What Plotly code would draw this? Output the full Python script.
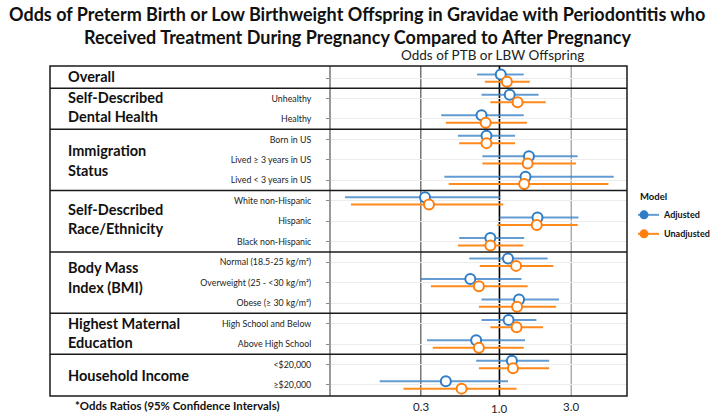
import math
import plotly.graph_objects as go

# ---------------- data ----------------
row_labels = ["", "Unhealthy", "Healthy", "Born in US", "Lived ≥ 3 years in US",
              "Lived < 3 years in US", "White non-Hispanic", "Hispanic", "Black non-Hispanic",
              "Normal (18.5-25 kg/m²)", "Overweight (25 - <30 kg/m²)", "Obese (≥ 30 kg/m²)",
              "High School and Below", "Above High School", "<$20,000", "≥$20,000"]

adj_or = [1.02, 1.17, 0.76, 0.82, 1.57, 1.49, 0.32, 1.79, 0.87, 1.14, 0.64, 1.35, 1.15, 0.70, 1.21, 0.44]
adj_lo = [0.71, 0.76, 0.41, 0.53, 0.77, 0.43, 0.094, 1.00, 0.54, 0.63, 0.30, 0.76, 0.76, 0.33, 0.70, 0.16]
adj_hi = [1.45, 1.82, 1.45, 1.27, 3.31, 5.75, 1.01, 3.35, 1.46, 2.09, 1.40, 2.49, 1.76, 1.48, 2.14, 1.14]

unadj_or = [1.12, 1.32, 0.81, 0.82, 1.54, 1.46, 0.34, 1.77, 0.87, 1.29, 0.73, 1.31, 1.30, 0.73, 1.23, 0.56]
unadj_lo = [0.80, 0.87, 0.44, 0.54, 0.77, 0.46, 0.103, 0.97, 0.53, 0.74, 0.35, 0.73, 0.87, 0.36, 0.73, 0.23]
unadj_hi = [1.59, 2.03, 1.52, 1.27, 3.23, 5.30, 1.06, 3.31, 1.44, 2.28, 1.54, 2.38, 1.95, 1.45, 2.14, 1.30]

group_labels = ["Overall", "Self-Described", "Dental Health", "Immigration", "Status",
                "Self-Described", "Race/Ethnicity", "Body Mass", "Index (BMI)",
                "Highest Maternal", "Education", "Household Income"]
x_ticks = [0.3, 1.0, 3.0]
x_tick_labels = ["0.3", "1.0", "3.0"]
series_names = ["Adjusted", "Unadjusted"]

# ---------------- styling / layout ----------------
BLUE = "#2f7dc6"
BLUE_LINE = "rgba(60,130,200,0.80)"
ORANGE = "#ff7f0e"
ORANGE_LINE = "#ff8a1c"
FONT = "Lato"

rows = list(range(len(row_labels)))
off = 0.18
y_adj = [r - off for r in rows]
y_unadj = [r + off for r in rows]

fig = go.Figure()

for name, xs, lo, hi, ys, mc, lc in [
    (series_names[0], adj_or, adj_lo, adj_hi, y_adj, BLUE, BLUE_LINE),
    (series_names[1], unadj_or, unadj_lo, unadj_hi, y_unadj, ORANGE, ORANGE_LINE),
]:
    fig.add_trace(go.Scatter(
        x=xs, y=ys, mode="markers", showlegend=False, name=name,
        marker=dict(symbol="circle", size=10, color="white", line=dict(color=mc, width=2)),
        error_x=dict(type="data", symmetric=False,
                     array=[h - v for h, v in zip(hi, xs)],
                     arrayminus=[v - l for v, l in zip(xs, lo)],
                     width=0, thickness=2, color=lc),
    ))
    # legend entry (filled point with line)
    fig.add_trace(go.Scatter(
        x=[None], y=[None], mode="lines+markers", name=name,
        marker=dict(symbol="circle", size=9, color=mc),
        line=dict(color=lc, width=2),
    ))

# plot region in pixels: x 331..627, y 66..396
L, R, T, B = 331, 627, 66, 396
W, H = 714, 415
pw, ph = R - L, B - T

def px_x(px):
    return (px - L) / pw

def px_y(py):
    return (B - py) / ph

shapes = []
# vertical reference lines
for xv, col, wd in [(0.3, "#555555", 1.2), (1.0, "#000000", 1.6), (3.0, "#999999", 1.2)]:
    shapes.append(dict(type="line", xref="x", yref="paper", x0=xv, x1=xv, y0=0, y1=1,
                       line=dict(color=col, width=wd), layer="between"))
# section dividers
for yv in [0.5, 2.5, 5.5, 8.5, 11.5, 13.5]:
    shapes.append(dict(type="line", xref="paper", yref="y", x0=px_x(50), x1=1, y0=yv, y1=yv,
                       line=dict(color="#1a1a1a", width=1.5), layer="above"))
# outer table box
shapes.append(dict(type="rect", xref="paper", yref="paper", x0=px_x(50), x1=1, y0=0, y1=1,
                   line=dict(color="#1a1a1a", width=1.5), layer="above"))

annotations = []
# group labels (positions in row units)
group_pos = [-0.1, 0.96, 1.90, 3.56, 4.50, 6.42, 7.35, 9.27, 10.23, 12.02, 12.93, 14.54]
for txt, yv in zip(group_labels, group_pos):
    annotations.append(dict(text=txt, xref="paper", yref="y", x=px_x(66), y=yv,
                            xanchor="left", yanchor="middle", showarrow=False,
                            font=dict(family=FONT, size=14.5, color="#111111", weight="bold")))
# x tick labels (annotation x on a log axis is given in log10 units)
for xv, txt, py in zip(x_ticks, x_tick_labels, [406.5, 408.5, 406.5]):
    annotations.append(dict(text=txt, xref="x", yref="paper", x=math.log10(xv), y=px_y(py),
                            xanchor="center", yanchor="middle", showarrow=False,
                            font=dict(family=FONT, size=11.5, color="#222222")))
# axis title
annotations.append(dict(text="Odds of PTB or LBW Offspring", xref="paper", yref="paper",
                        x=px_x(492), y=px_y(55), xanchor="center", yanchor="middle",
                        showarrow=False, font=dict(family=FONT, size=13.5, color="#222222")))
# footnote
annotations.append(dict(text="*Odds Ratios (95% Confidence Intervals)", xref="paper", yref="paper",
                        x=px_x(73), y=px_y(405), xanchor="left", yanchor="middle",
                        showarrow=False, font=dict(family=FONT, size=11.4, color="#111111", weight="bold")))
# title
annotations.append(dict(text="Odds of Preterm Birth or Low Birthweight Offspring in Gravidae with Periodontitis who",
                        xref="paper", yref="paper", x=px_x(357), y=px_y(14), xanchor="center",
                        yanchor="middle", showarrow=False,
                        font=dict(family=FONT, size=18, color="#111111", weight="bold")))
annotations.append(dict(text="Received Treatment During Pregnancy Compared to After Pregnancy",
                        xref="paper", yref="paper", x=px_x(357), y=px_y(37), xanchor="center",
                        yanchor="middle", showarrow=False,
                        font=dict(family=FONT, size=18, color="#111111", weight="bold")))

fig.update_layout(
    width=W, height=H,
    margin=dict(l=L, r=W - R, t=T, b=H - B, pad=0, autoexpand=False),
    paper_bgcolor="white", plot_bgcolor="white",
    font=dict(family=FONT, color="#222222"),
    shapes=shapes, annotations=annotations,
    legend=dict(title=dict(text="Model", font=dict(size=9.5, weight="bold")),
                x=px_x(638), y=px_y(188), xanchor="left", yanchor="top",
                font=dict(size=9, weight="bold", color="#111111"),
                itemwidth=30, indentation=-14,
                bgcolor="rgba(0,0,0,0)", tracegroupgap=2),
)
fig.update_xaxes(type="log", range=[-1.12, 0.848], showgrid=False, showticklabels=False,
                 ticks="", zeroline=False, showline=False, automargin=False)
fig.update_yaxes(range=[15.54, -0.59], tickmode="array", tickvals=rows, ticktext=row_labels,
                 showgrid=True, gridcolor="#ececec", gridwidth=1, zeroline=False,
                 ticks="outside", ticklen=3, tickcolor="#888888", tickwidth=1,
                 showline=True, linecolor="#999999", linewidth=2, automargin=False,
                 ticklabelstandoff=13,
                 tickfont=dict(family=FONT, size=8.8, color="#222222"))

fig.write_html("out.html", config={"displayModeBar": False},
               post_script="document.body.style.margin='0';document.body.style.overflow='hidden';")
